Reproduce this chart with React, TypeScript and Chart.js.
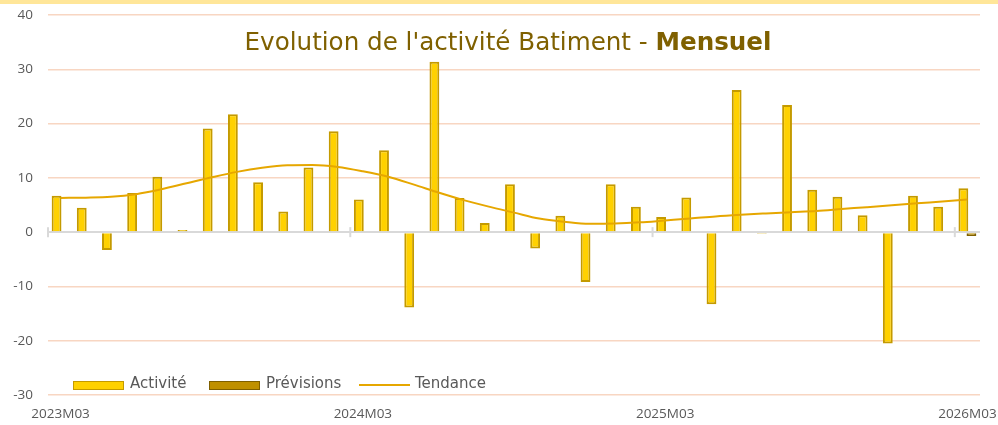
import React, { useEffect, useRef } from "react";
import { Chart, registerables } from "chart.js";

Chart.register(...registerables);

const categories = [
  "2023M03", "2023M04", "2023M05", "2023M06", "2023M07", "2023M08", "2023M09", "2023M10", "2023M11", "2023M12",
  "2024M01", "2024M02", "2024M03", "2024M04", "2024M05", "2024M06", "2024M07", "2024M08", "2024M09", "2024M10",
  "2024M11", "2024M12", "2025M01", "2025M02", "2025M03", "2025M04", "2025M05", "2025M06", "2025M07", "2025M08",
  "2025M09", "2025M10", "2025M11", "2025M12", "2026M01", "2026M02", "2026M03",
];

const tickLabels = ["2023M03", "2024M03", "2025M03", "2026M03"];

const activite = [
  6.7, 4.5, -3.3, 7.2, 10.2, 0.4, 19.1, 21.7, 9.2, 3.8,
  11.9, 18.6, 6.0, 15.1, -13.9, 31.4, 6.3, 1.7, 8.8, -3.0,
  3.0, -9.2, 8.8, 4.7, 2.8, 6.4, -13.3, 26.2, -0.3, 23.4,
  7.8, 6.5, 3.1, -20.5, 6.7, 4.7, 8.1,
];

const previsions = [
  null, null, null, null, null, null, null, null, null, null,
  null, null, null, null, null, null, null, null, null, null,
  null, null, null, null, null, null, null, null, null, null,
  null, null, null, null, null, null, -0.7,
];

const tendance = [
  6.3, 6.35, 6.5, 7.0, 7.9, 9.0, 10.1, 11.1, 11.85, 12.3,
  12.35, 12.0, 11.2, 10.2, 8.8, 7.3, 5.9, 4.7, 3.6, 2.5,
  1.9, 1.53, 1.58, 1.8, 2.15, 2.5, 2.9, 3.2, 3.45, 3.68,
  3.9, 4.25, 4.6, 4.95, 5.3, 5.65, 6.0,
];

const seriesNames = ["Activité", "Prévisions", "Tendance"];
const titleText = "Evolution de l'activité Batiment - ";
const titleBold = "Mensuel";

const yMin = -30;
const yMax = 40;
const yStep = 10;

const COLORS = {
  actFill: "#FFD100",
  actBorder: "#C49A00",
  prevFill: "#BF9000",
  prevBorder: "#7F6000",
  trend: "#E6A700",
  grid: "#F8D6C2",
  zero: "#D9D9D9",
  text: "#595959",
  title: "#7F6000",
};

const zeroTicksPlugin = {
  id: "zeroTicks",
  beforeDatasetsDraw(chart: any) {
    const xs = chart.scales.x;
    const ys = chart.scales.y;
    const ctx = chart.ctx;
    const y0 = ys.getPixelForValue(0);
    const step = xs.getPixelForValue(1) - xs.getPixelForValue(0);
    ctx.save();
    ctx.strokeStyle = COLORS.zero;
    ctx.lineWidth = 2;
    categories.forEach((c, i) => {
      if (tickLabels.includes(c)) {
        const px = xs.getPixelForValue(i) - step / 2;
        ctx.beginPath();
        ctx.moveTo(px, y0 - 5);
        ctx.lineTo(px, y0 + 5);
        ctx.stroke();
      }
    });
    ctx.restore();
  },
};

export default function App() {
  const canvasRef = useRef<HTMLCanvasElement | null>(null);

  useEffect(() => {
    document.body.style.margin = "0";
    const canvas = canvasRef.current;
    if (!canvas) return;
    const tickFont = { family: "'Open Sans', sans-serif", size: 13.5 };
    const chart = new Chart(canvas, {
      data: {
        labels: categories,
        datasets: [
          {
            type: "line",
            label: seriesNames[2],
            data: tendance,
            borderColor: COLORS.trend,
            backgroundColor: COLORS.trend,
            borderWidth: 2,
            pointRadius: 0,
            cubicInterpolationMode: "monotone",
            order: 0,
          },
          {
            type: "bar",
            label: seriesNames[0],
            data: activite,
            backgroundColor: COLORS.actFill,
            borderColor: COLORS.actBorder,
            borderWidth: 2,
            categoryPercentage: 0.64,
            barPercentage: 1.22,
            order: 1,
          },
          {
            type: "bar",
            label: seriesNames[1],
            data: previsions,
            backgroundColor: COLORS.prevFill,
            borderColor: COLORS.prevBorder,
            borderWidth: 2,
            categoryPercentage: 0.64,
            barPercentage: 1.22,
            order: 2,
          },
        ],
      } as any,
      options: {
        responsive: false,
        animation: false,
        devicePixelRatio: 1,
        layout: { padding: { left: 0, right: 18, top: 15, bottom: 0 } },
        plugins: {
          legend: { display: false },
          title: { display: false },
          tooltip: { enabled: false },
        },
        scales: {
          x: {
            type: "category",
            offset: true,
            grid: { display: false, drawTicks: false },
            border: { display: false },
            ticks: {
              autoSkip: false,
              maxRotation: 0,
              minRotation: 0,
              padding: 11,
              color: COLORS.text,
              font: tickFont,
              callback: (_v: any, i: number) =>
                tickLabels.includes(categories[i]) ? categories[i] : "",
            },
            afterFit: (s: any) => {
              s.height = 30;
              s.paddingLeft = 0;
              s.paddingRight = 0;
            },
          },
          y: {
            min: yMin,
            max: yMax,
            border: { display: false },
            grid: {
              drawTicks: false,
              color: (c: any) => (c.tick && c.tick.value === 0 ? COLORS.zero : COLORS.grid),
              lineWidth: (c: any) => (c.tick && c.tick.value === 0 ? 2 : 1.5),
            },
            ticks: {
              stepSize: yStep,
              padding: 15,
              color: COLORS.text,
              font: tickFont,
            },
            afterFit: (s: any) => {
              s.width = 48;
              s.paddingTop = 0;
              s.paddingBottom = 0;
            },
          },
        },
      } as any,
      plugins: [zeroTicksPlugin],
    });
    return () => chart.destroy();
  }, []);

  const legendFont: React.CSSProperties = {
    position: "absolute",
    top: 376,
    fontFamily: "'DejaVu Sans', sans-serif",
    fontSize: 15,
    lineHeight: "15px",
    color: COLORS.text,
    whiteSpace: "nowrap",
  };
  const box = (left: number, fill: string, border: string): React.CSSProperties => ({
    position: "absolute",
    left,
    top: 380.5,
    width: 51,
    height: 9,
    boxSizing: "border-box",
    background: fill,
    border: `1.5px solid ${border}`,
  });

  return (
    <div style={{ position: "relative", width: 998, height: 425, background: "#fff", overflow: "hidden" }}>
      <canvas ref={canvasRef} width={998} height={425} style={{ display: "block" }} />
      <div style={{ position: "absolute", left: 0, top: 0, width: 998, height: 4, background: "#FFE699" }} />
      <div
        style={{
          position: "absolute",
          left: 508,
          top: 29,
          transform: "translateX(-50%)",
          fontFamily: "'DejaVu Sans', sans-serif",
          fontSize: 24.6,
          lineHeight: "25px",
          color: COLORS.title,
          whiteSpace: "pre",
        }}
      >
        {titleText}
        <span style={{ fontWeight: "bold" }}>{titleBold}</span>
      </div>
      <div style={box(72.5, COLORS.actFill, COLORS.actBorder)} />
      <div style={{ ...legendFont, left: 130 }}>{seriesNames[0]}</div>
      <div style={box(208.5, COLORS.prevFill, COLORS.prevBorder)} />
      <div style={{ ...legendFont, left: 266 }}>{seriesNames[1]}</div>
      <div style={{ position: "absolute", left: 359, top: 384, width: 51, height: 2, background: COLORS.trend }} />
      <div style={{ ...legendFont, left: 415 }}>{seriesNames[2]}</div>
    </div>
  );
}
